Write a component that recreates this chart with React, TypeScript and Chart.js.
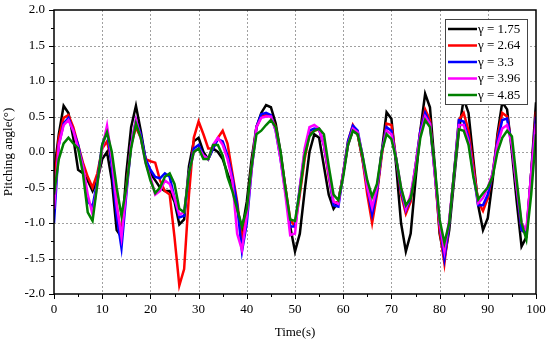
import React, { useEffect, useRef } from "react";
import { Chart, registerables } from "chart.js";

Chart.register(...registerables);

const times: number[] = Array.from({ length: 101 }, (_, i) => i);

const seriesLabels = ["γ = 1.75", "γ = 2.64", "γ = 3.3", "γ = 3.96", "γ = 4.85"];
const seriesColors = ["#000000", "#ff0000", "#0000ff", "#ff00ff", "#008000"];

const xTicks = [0, 10, 20, 30, 40, 50, 60, 70, 80, 90, 100];
const yTicks = [-2.0, -1.5, -1.0, -0.5, 0.0, 0.5, 1.0, 1.5, 2.0];

const gamma175 = [
  -0.3, 0.25, 0.65, 0.55, 0.2, -0.25, -0.3, -0.4, -0.55, -0.4,
  -0.1, 0.0, -0.4, -1.1, -1.2, -0.3, 0.35, 0.65, 0.3, -0.1,
  -0.3, -0.4, -0.5, -0.55, -0.55, -0.7, -1.02, -0.95, -0.2, 0.15,
  0.2, 0.0, -0.1, 0.05, 0.0, -0.1, -0.3, -0.5, -0.8, -1.1,
  -0.7, -0.1, 0.35, 0.55, 0.66, 0.63, 0.4, 0.0, -0.5, -1.05,
  -1.4, -1.15, -0.55, 0.0, 0.25, 0.2, -0.2, -0.6, -0.8, -0.7,
  -0.3, 0.1, 0.3, 0.25, -0.1, -0.5, -0.8, -0.55, 0.0, 0.56,
  0.47, -0.2, -1.0, -1.4, -1.15, -0.4, 0.3, 0.82, 0.63, -0.2,
  -1.15, -1.5, -1.1, -0.4, 0.3, 0.75, 0.55, -0.1, -0.75, -1.1,
  -0.93, -0.4, 0.25, 0.7, 0.6, 0.0, -0.7, -1.33, -1.2, -0.3,
  0.7,
];

const gamma264 = [
  -0.5, 0.2, 0.48, 0.52, 0.35, 0.1, -0.15, -0.35, -0.5, -0.3,
  0.05, 0.15, -0.15, -0.75, -1.2, -0.5, 0.1, 0.35, 0.2, -0.1,
  -0.13, -0.15, -0.4, -0.55, -0.6, -1.2, -1.88, -1.65, -0.6, 0.2,
  0.43, 0.25, 0.05, 0.05, 0.2, 0.3, 0.12, -0.3, -0.7, -1.25,
  -0.85, -0.2, 0.35, 0.5, 0.52, 0.5, 0.35, -0.05, -0.5, -0.95,
  -1.05, -0.6, -0.1, 0.25, 0.3, 0.32, 0.1, -0.35, -0.72, -0.7,
  -0.3, 0.15, 0.38, 0.25, -0.1, -0.6, -1.0, -0.6, -0.05, 0.4,
  0.38, -0.1, -0.6, -0.87, -0.7, -0.2, 0.3, 0.6, 0.45, -0.3,
  -1.1, -1.57, -1.0, -0.3, 0.45, 0.55, 0.3, -0.2, -0.7, -0.83,
  -0.65, -0.3, 0.2, 0.55, 0.5, 0.1, -0.5, -1.1, -1.15, -0.3,
  0.57,
];

const gamma33 = [
  -1.0, 0.1, 0.4, 0.48, 0.3, 0.1, -0.2, -0.7, -0.77, -0.4,
  0.1, 0.3, -0.2, -0.9, -1.35, -0.6, 0.1, 0.45, 0.25, -0.1,
  -0.25, -0.35, -0.37, -0.3, -0.35, -0.65, -0.92, -0.9, -0.3, 0.05,
  0.1, -0.05, -0.1, 0.05, 0.18, 0.15, -0.05, -0.35, -0.75, -1.4,
  -1.0, -0.25, 0.35, 0.53, 0.55, 0.52, 0.3, -0.1, -0.55, -1.05,
  -1.05, -0.5, 0.0, 0.3, 0.33, 0.32, 0.1, -0.3, -0.75, -0.77,
  -0.3, 0.15, 0.37, 0.3, -0.05, -0.5, -0.88, -0.55, 0.0, 0.35,
  0.3, -0.1, -0.55, -0.82, -0.65, -0.2, 0.3, 0.55, 0.4, -0.3,
  -1.0, -1.5, -1.0, -0.3, 0.45, 0.43, 0.2, -0.3, -0.75, -0.75,
  -0.6, -0.3, 0.15, 0.45, 0.47, 0.1, -0.5, -1.1, -1.15, -0.3,
  0.5,
];

const gamma396 = [
  -0.8, 0.1, 0.38, 0.45, 0.3, 0.05, -0.2, -0.6, -0.88, -0.45,
  0.05, 0.37, -0.1, -0.75, -1.2, -0.55, 0.1, 0.45, 0.2, -0.15,
  -0.35, -0.6, -0.55, -0.4, -0.45, -0.65, -0.88, -0.85, -0.3, 0.0,
  0.05, -0.05, -0.1, 0.1, 0.2, 0.1, -0.1, -0.4, -1.15, -1.38,
  -0.9, -0.25, 0.35, 0.48, 0.5, 0.5, 0.3, -0.1, -0.6, -1.17,
  -1.15, -0.5, 0.05, 0.35, 0.38, 0.33, 0.1, -0.3, -0.7, -0.73,
  -0.3, 0.1, 0.33, 0.28, -0.05, -0.5, -0.78, -0.5, 0.0, 0.3,
  0.25, -0.1, -0.5, -0.8, -0.6, -0.2, 0.25, 0.5, 0.4, -0.3,
  -1.0, -1.4, -0.95, -0.3, 0.38, 0.38, 0.15, -0.3, -0.72, -0.65,
  -0.5, -0.3, 0.1, 0.33, 0.38, 0.1, -0.5, -1.0, -1.1, -0.3,
  0.4,
];

const gamma485 = [
  -0.6, -0.1, 0.12, 0.2, 0.12, 0.05, -0.3, -0.85, -0.97, -0.45,
  0.1, 0.28, 0.0, -0.5, -0.9, -0.5, 0.05, 0.4, 0.2, -0.15,
  -0.4, -0.58, -0.5, -0.35, -0.3, -0.45, -0.8, -0.85, -0.3, 0.0,
  0.05, -0.1, -0.1, 0.1, 0.1, -0.05, -0.35, -0.55, -0.8, -1.05,
  -0.8, -0.2, 0.25, 0.3, 0.38, 0.45, 0.35, 0.0, -0.5, -0.95,
  -0.97, -0.55, -0.05, 0.22, 0.3, 0.33, 0.25, -0.2, -0.6, -0.68,
  -0.35, 0.1, 0.3, 0.25, -0.05, -0.4, -0.63, -0.45, 0.0, 0.25,
  0.18, -0.1, -0.5, -0.75, -0.65, -0.3, 0.2, 0.45, 0.35, -0.2,
  -0.95, -1.28, -1.0, -0.3, 0.32, 0.3, 0.1, -0.35, -0.67, -0.58,
  -0.5, -0.35, 0.0, 0.2, 0.3, 0.22, -0.4, -1.0, -1.23, -0.6,
  0.25,
];

const seriesValues = [gamma175, gamma264, gamma33, gamma396, gamma485];

const FONT = "'Liberation Serif', 'Times New Roman', serif";

const gridPlugin = {
  id: "dottedGrid",
  beforeDatasetsDraw(chart: any) {
    const { ctx, chartArea, scales } = chart;
    const { left, right, top, bottom } = chartArea;
    ctx.save();
    ctx.strokeStyle = "#a0a0a0";
    ctx.lineWidth = 1;
    ctx.setLineDash([2, 2]);
    ctx.beginPath();
    for (const v of xTicks) {
      const x = Math.round(scales.x.getPixelForValue(v)) + 0.5;
      if (x <= left + 1 || x >= right - 1) continue;
      ctx.moveTo(x, top);
      ctx.lineTo(x, bottom);
    }
    for (const v of yTicks) {
      const y = Math.round(scales.y.getPixelForValue(v)) + 0.5;
      if (y <= top + 1 || y >= bottom - 1) continue;
      ctx.moveTo(left, y);
      ctx.lineTo(right, y);
    }
    ctx.stroke();
    ctx.restore();
  },
};

const framePlugin = {
  id: "frame",
  afterDraw(chart: any) {
    const { ctx, chartArea, scales } = chart;
    const { left, right, top, bottom } = chartArea;
    const xs = scales.x;
    const ys = scales.y;
    ctx.save();
    ctx.strokeStyle = "#000";
    ctx.lineWidth = 1.5;
    ctx.setLineDash([]);
    ctx.strokeRect(left, top, right - left, bottom - top);
    ctx.lineWidth = 1;
    ctx.beginPath();
    for (let k = 0; k <= 16; k++) {
      const v = -2 + k * 0.25;
      const y = Math.round(ys.getPixelForValue(v)) + 0.5;
      const len = k % 2 === 0 ? 5 : 3;
      ctx.moveTo(left, y);
      ctx.lineTo(left - len, y);
    }
    for (let v = 0; v <= 100; v += 5) {
      const x = Math.round(xs.getPixelForValue(v)) + 0.5;
      const len = v % 10 === 0 ? 5 : 3;
      ctx.moveTo(x, bottom);
      ctx.lineTo(x, bottom + len);
    }
    ctx.stroke();

    // legend
    const boxW = 82;
    const boxH = 85;
    const bx = right - 9 - boxW;
    const by = top + 9;
    ctx.fillStyle = "#ffffff";
    ctx.fillRect(bx, by, boxW, boxH);
    ctx.strokeStyle = "#444";
    ctx.lineWidth = 1;
    ctx.strokeRect(bx + 0.5, by + 0.5, boxW, boxH);
    ctx.font = "13px " + FONT;
    ctx.textBaseline = "middle";
    ctx.textAlign = "left";
    for (let i = 0; i < seriesLabels.length; i++) {
      const yy = by + 10 + i * 16.5;
      ctx.strokeStyle = seriesColors[i];
      ctx.lineWidth = 2.5;
      ctx.beginPath();
      ctx.moveTo(bx + 3, yy);
      ctx.lineTo(bx + 32, yy);
      ctx.stroke();
      ctx.fillStyle = "#000";
      ctx.fillText(seriesLabels[i], bx + 33, yy + 0.5);
    }
    ctx.restore();
  },
};

export default function App() {
  const ref = useRef<HTMLCanvasElement>(null);

  useEffect(() => {
    document.body.style.margin = "0";
    const canvas = ref.current;
    if (!canvas) return;
    const chart = new Chart(canvas, {
      type: "line",
      data: {
        labels: times,
        datasets: seriesValues.map((vals, i) => ({
          label: seriesLabels[i],
          data: vals.map((v, j) => ({ x: times[j], y: v })),
          borderColor: seriesColors[i],
          backgroundColor: seriesColors[i],
          borderWidth: 2.5,
          pointRadius: 0,
          tension: 0,
          fill: false,
          order: seriesLabels.length - i,
        })),
      },
      options: {
        responsive: false,
        animation: false,
        maintainAspectRatio: false,
        layout: { padding: { left: 0, top: 10, right: 14, bottom: 0 } },
        plugins: {
          legend: { display: false },
          tooltip: { enabled: false },
        },
        scales: {
          x: {
            type: "linear",
            min: 0,
            max: 100,
            afterFit: (s: any) => {
              s.height = 50;
              s.paddingLeft = 0;
              s.paddingRight = 0;
            },
            afterBuildTicks: (s: any) => {
              s.ticks = xTicks.map((v) => ({ value: v }));
            },
            ticks: {
              padding: 8,
              color: "#000",
              font: { family: FONT, size: 13 },
            },
            grid: { display: false, drawTicks: false },
            border: { display: false },
            title: {
              display: true,
              text: "Time(s)",
              color: "#000",
              font: { family: FONT, size: 13 },
              padding: { top: 0, bottom: 4 },
            },
          },
          y: {
            min: -2,
            max: 2,
            afterFit: (s: any) => {
              s.width = 54;
              s.paddingTop = 0;
              s.paddingBottom = 0;
            },
            afterBuildTicks: (s: any) => {
              s.ticks = yTicks.map((v) => ({ value: v }));
            },
            ticks: {
              padding: 9,
              color: "#000",
              font: { family: FONT, size: 13 },
              callback: (v: any) => Number(v).toFixed(1),
            },
            grid: { display: false, drawTicks: false },
            border: { display: false },
            title: {
              display: true,
              text: "Pitching angle(°)",
              color: "#000",
              font: { family: FONT, size: 13 },
              padding: { top: 1, bottom: 0 },
            },
          },
        },
      } as any,
      plugins: [gridPlugin, framePlugin],
    });
    return () => chart.destroy();
  }, []);

  return (
    <div style={{ width: 550, height: 344 }}>
      <canvas ref={ref} width={550} height={344} style={{ display: "block" }} />
    </div>
  );
}
